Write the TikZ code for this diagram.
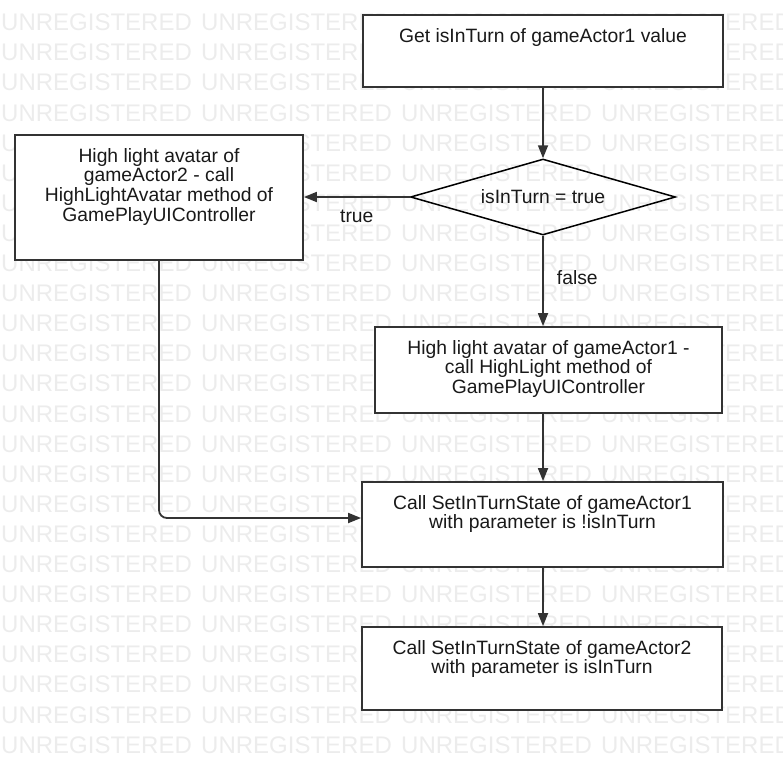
\documentclass[tikz,border=0pt]{standalone}
\usepackage{fontspec}
\setmainfont{Liberation Sans}
\definecolor{linegray}{RGB}{51,51,51}
\definecolor{markgray}{RGB}{236,236,236}
\usetikzlibrary{shapes.geometric,arrows.meta,positioning,calc}

\begin{document}
\begin{tikzpicture}[x=1pt, y=-1pt,
    stepbox/.style={draw=linegray, line width=1.8pt, fill=white, inner sep=0pt},
    steptext/.style={anchor=north, align=center, inner sep=0pt, text=black!90,
        font=\fontsize{19.3}{19.6}\selectfont},
    lbl/.style={inner sep=0pt, text=black!90, font=\fontsize{19.3}{19.6}\selectfont},
    wmark/.style={anchor=base west, inner sep=0pt, text=markgray,
        font=\fontsize{24}{24}\selectfont},
    arr/.style={draw=linegray, line width=1.8pt, -{Triangle[length=13pt,width=10pt]}}]
    \useasboundingbox (0,0) rectangle (783,771);
    \clip (0,0) rectangle (783,771);
    % watermark
    \foreach \row in {0,...,24} {
        \foreach \col in {0,...,3} {
            \node[wmark] (wm-\row-\col) at ({1+200*\col}, {30.7+30.1*\row}) {UNREGISTERED};
        }
    }
    % steps
    \node[stepbox, minimum width=360pt, minimum height=72pt] (get) at (543,51) {};
    \node[stepbox, minimum width=288pt, minimum height=125pt] (hl2) at (159,197.5) {};
    \node[stepbox, minimum width=347pt, minimum height=86pt] (hl1) at (548.5,370) {};
    \node[stepbox, minimum width=361pt, minimum height=85pt] (cs1) at (542.5,524.5) {};
    \node[stepbox, minimum width=360pt, minimum height=83pt] (cs2) at (542,668.5) {};
    \node[diamond, draw=black, line width=1.5pt, inner sep=0pt, aspect=3.5,
        minimum width=265pt, minimum height=76pt] (dec) at (543,197) {};
    % texts
    \node[steptext] (gettxt) at ([yshift=-14pt]get.north) {Get isInTurn of gameActor1 value};
    \node[steptext] (hl2txt) at ([yshift=-14pt]hl2.north) {High light avatar of\\gameActor2 - call\\HighLightAvatar method of\\GamePlayUIController};
    \node[steptext] (hl1txt) at ([yshift=-14pt]hl1.north) {High light avatar of gameActor1 -\\call HighLight method of\\GamePlayUIController};
    \node[steptext] (cs1txt) at ([yshift=-14pt]cs1.north) {Call SetInTurnState of gameActor1\\with parameter is !isInTurn};
    \node[steptext] (cs2txt) at ([yshift=-14pt]cs2.north) {Call SetInTurnState of gameActor2\\with parameter is isInTurn};
    \node[lbl] (dectxt) at (dec.center) {isInTurn = true};
    % connectors
    \draw[arr] (get.south) -- (dec.north);
    \draw[arr] (dec.west) -- (dec.west -| hl2.east)
        node[lbl, midway, yshift=-19pt] (truelbl) {true};
    \draw[arr] (dec.south) -- (dec.south |- hl1.north)
        node[lbl, pos=0.46, anchor=west, xshift=13pt] (falselbl) {false};
    \draw[arr] (hl1.south -| dec.south) -- (cs1.north -| dec.south);
    \draw[arr, rounded corners=8pt] (hl2.south) |- ([yshift=6.5pt]cs1.west);
    \draw[arr] (cs1.south -| dec.south) -- (cs2.north -| dec.south);
\end{tikzpicture}
\end{document}
